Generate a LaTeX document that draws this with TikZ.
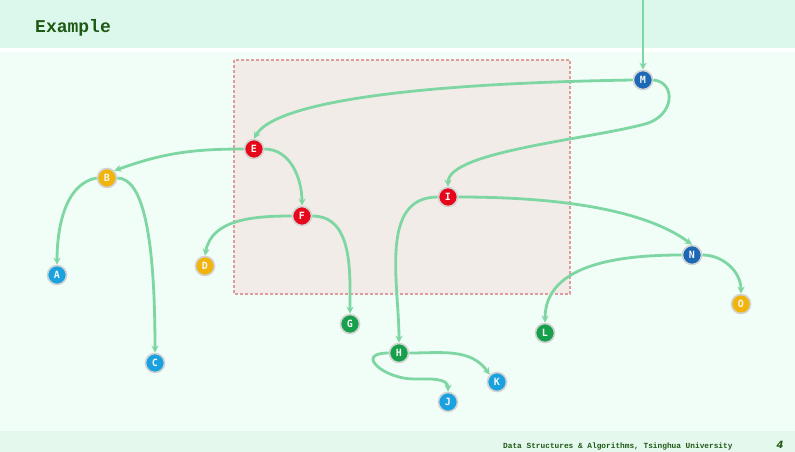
\documentclass[tikz,border=0pt]{standalone}
\usepackage{fontspec}
\setmainfont{DejaVu Sans}
\newfontfamily\monobold{Liberation Mono}
\newfontfamily\vtxfont{DejaVu Sans Mono}
\usetikzlibrary{calc,arrows.meta}
\definecolor{titleband}{HTML}{DCF8ED}
\definecolor{bodybg}{HTML}{F1FDF7}
\definecolor{footband}{HTML}{E4F8EE}
\definecolor{boxfill}{HTML}{F1ECE8}
\definecolor{boxline}{HTML}{E09C9C}
\definecolor{edgegreen}{HTML}{7ED6A2}
\definecolor{titlegreen}{HTML}{1F5A14}
\definecolor{nred}{HTML}{E6071B}
\definecolor{nyellow}{HTML}{F0B40A}
\definecolor{nlblue}{HTML}{1AA2E0}
\definecolor{ndblue}{HTML}{1D68B5}
\definecolor{ngreen}{HTML}{17A04C}

\begin{document}
\begin{tikzpicture}[x=1pt,y=-1pt,
    vtx/.style={circle,minimum size=19pt,inner sep=0pt,draw=gray!35,line width=1.6pt,
        text=white!92!gray,font=\vtxfont\bfseries\fontsize{10}{10}\selectfont},
    edge/.style={draw=edgegreen,line width=2.8pt,-{Stealth[length=7pt,width=7pt]}}]
            \useasboundingbox (0,0) rectangle (795,452);
            \fill[bodybg] (0,0) rectangle (795,452);
            \fill[titleband] (0,0) rectangle (795,48);
            \fill[white] (0,48) rectangle (795,52);
            \fill[footband] (0,431) rectangle (795,452);
            \node[anchor=base west,text=titlegreen,inner sep=0pt,
                font=\monobold\bfseries\fontsize{18}{18}\selectfont] (title) at (35,33) {Example};
            \node[anchor=base west,text=titlegreen,inner sep=0pt,
                font=\monobold\bfseries\fontsize{7.8}{8}\selectfont] (foot) at (503,448) {Data Structures \& Algorithms, Tsinghua University};
            \node[anchor=base,text=titlegreen,inner sep=0pt,
                font=\bfseries\itshape\fontsize{10}{10}\selectfont] (page) at (780,448) {4};

            \fill[boxfill] (234,60) rectangle (570,294);
            \draw[boxline,dash pattern=on 3pt off 2pt,line width=1.6pt] (234,60) rectangle (570,294);

            \node[vtx,fill=ndblue] (M) at (643,80) {M};
            \node[vtx,fill=nred] (E) at (254,149) {E};
            \node[vtx,fill=nyellow] (B) at (107,178) {B};
            \node[vtx,fill=nred] (F) at (302,216) {F};
            \node[vtx,fill=nred] (I) at (448,197) {I};
            \node[vtx,fill=nyellow] (D) at (205,266) {D};
            \node[vtx,fill=nlblue] (A) at (57,275) {A};
            \node[vtx,fill=ndblue] (N) at (692,255) {N};
            \node[vtx,fill=nyellow] (O) at (741,304) {O};
            \node[vtx,fill=ngreen] (G) at (350,324) {G};
            \node[vtx,fill=ngreen] (L) at (545,333) {L};
            \node[vtx,fill=nlblue] (C) at (155,363) {C};
            \node[vtx,fill=ngreen] (H) at (399,353) {H};
            \node[vtx,fill=nlblue] (K) at (497,382) {K};
            \node[vtx,fill=nlblue] (J) at (448,402) {J};

            \coordinate (root) at (643,0);
            \draw[edge,line width=2.2pt] (root)--(M);
            \draw[edge] (M.west) .. controls +(-250,4) and +(18,-32) .. (E.north);
            \draw[edge] (M.east) .. controls +(23,2) and +(30,-8) .. ($(M)+(2,44)$)
                .. controls +(-60,16) and +(0,-35) .. (I.north);
            \draw[edge] (E.west) to[out=180,in=20] (B.north east);
            \draw[edge] (E.east) to[out=0,in=90] (F.north);
            \draw[edge] (F.west) to[out=180,in=80] (D.north);
            \draw[edge] (F.east) to[out=0,in=90] (G.north);
            \draw[edge] (B.west) to[out=190,in=90,looseness=0.9] (A.north);
            \draw[edge] (B.east) .. controls +(25,0) and +(0,-120) .. (C.north);
            \draw[edge] (I.east) .. controls +(120,0) and +(-40,-30) .. (N.north);
            \draw[edge] (I.west) to[out=180,in=90] (H.north);
            \draw[edge] (N.west) to[out=180,in=90] (L.north);
            \draw[edge] (N.east) to[out=0,in=90] (O.north);
            \draw[edge] (H.east) to[out=0,in=125] (K.north west);
            \draw[edge] (H.west) .. controls +(-35,0) and +(-30,0) .. ($(H)+(15,26)$)
                to[out=0,in=90] (J.north);
        \end{tikzpicture}
\end{document}
